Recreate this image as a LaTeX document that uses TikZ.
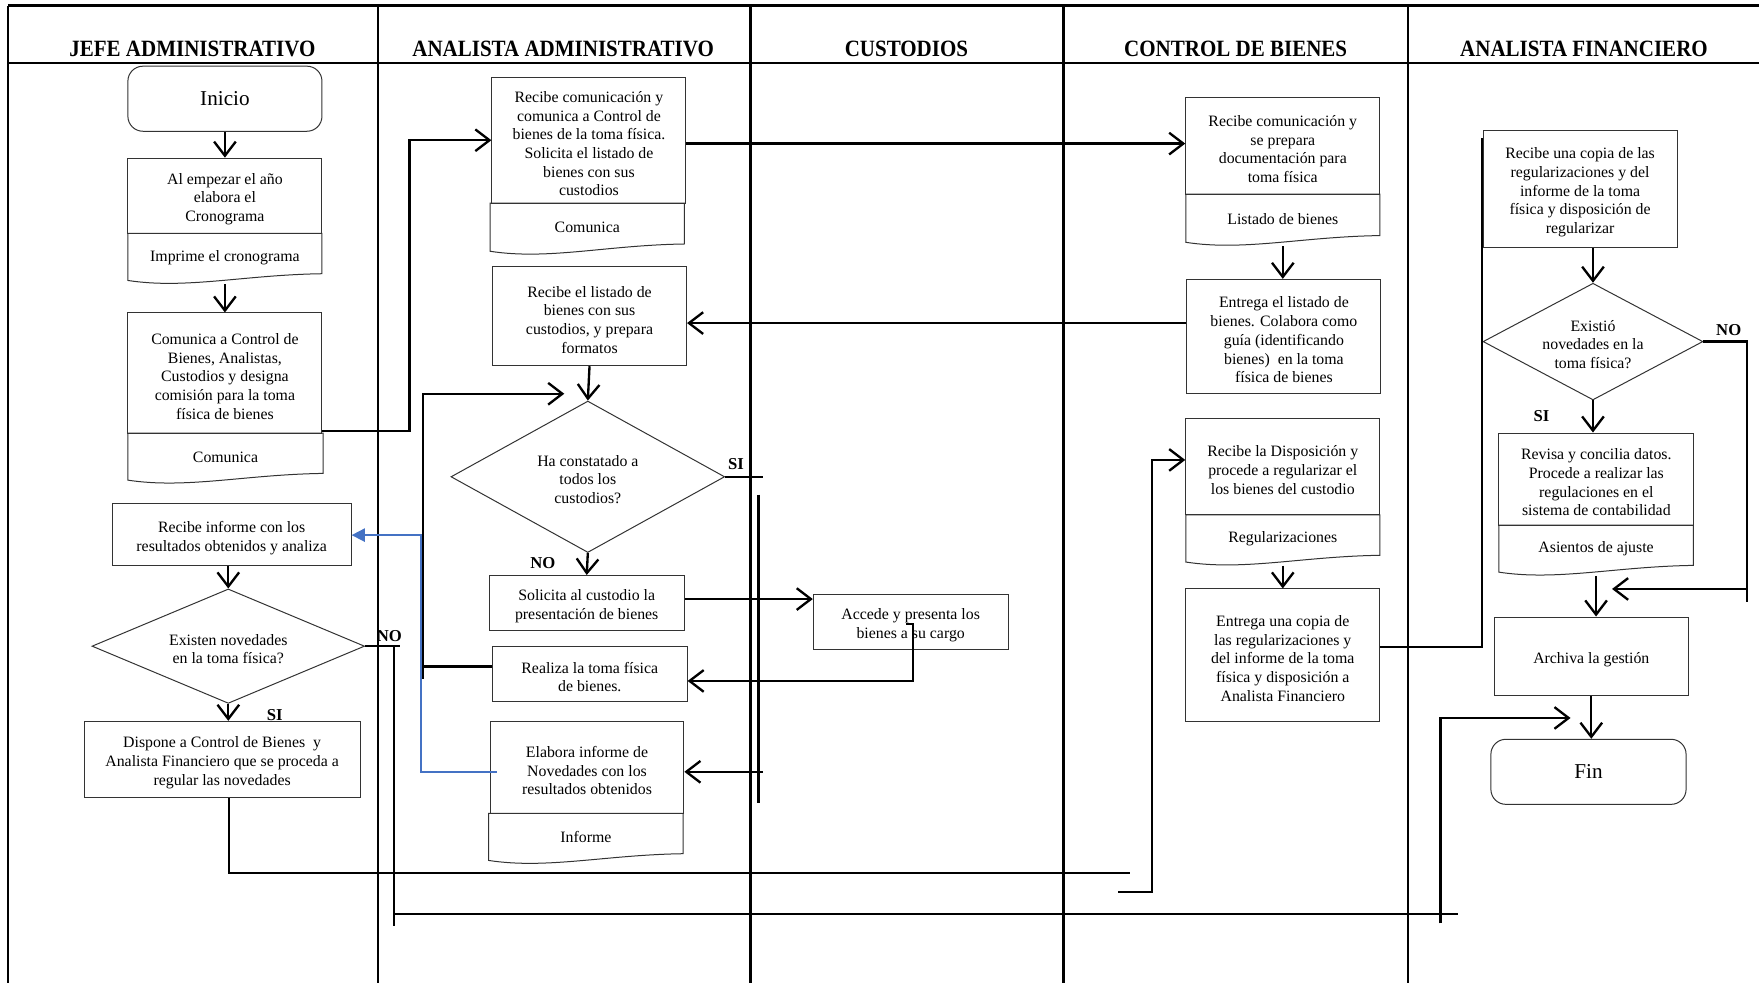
\documentclass[tikz,border=0pt]{standalone}
\usepackage{fontspec}
\setmainfont{Liberation Serif}
\usetikzlibrary{arrows.meta,shapes.geometric,calc}
\newcommand\fs{\fontsize{9.5}{11.2}\selectfont}
\definecolor{bluelink}{RGB}{68,114,196}
\tikzset{
 box/.style={draw=black!80, line width=0.6pt, rectangle, inner sep=0pt, align=center, font=\fs},
 doctxt/.style={inner sep=0pt, align=center, font=\fs},
 docline/.style={draw=black!80, line width=0.6pt},
 dia/.style={draw=black!80, line width=0.6pt, diamond, inner sep=0pt},
 conn/.style={line width=1.4pt, -{Straight Barb[length=8.5pt,width=13pt,line width=1.4pt]}},
 plain/.style={line width=1.4pt},
 blueconn/.style={draw=bluelink, line width=1pt, -{Triangle[length=8pt,width=8pt]}},
 lane/.style={line width=1.4pt},
 hdr/.style={inner sep=0pt, font=\fontsize{14}{16}\selectfont\bfseries},
 lbl/.style={inner sep=0pt, font=\fontsize{10}{12}\selectfont\bfseries},
}
\newcommand\bx[6]{\node[box, minimum width={(#4-#2)*0.673pt}, minimum height={(#5-#3)*0.673pt}] (#1) at ({(#2+#4)/2},{(#3+#5)/2}) {};
 \node[doctxt] (#1t) at ({(#2+#4)/2},{(#3+#5)/2+3}) {#6};}
\newcommand\dc[7]{%
 \draw[docline] (#2,#3) -- (#2,#6) .. controls ({#2+0.3*(#4-#2)},{#6+8}) and ({#2+0.6*(#4-#2)},{#5+1}) .. (#4,#5) -- (#4,#3) -- cycle;
 \node[inner sep=0pt, minimum width={(#4-#2)*0.673pt}, minimum height={(#6+3-#3)*0.673pt}] (#1) at ({(#2+#4)/2},{(#3+#6+3)/2}) {};
 \node[doctxt] (#1t) at ({(#2+#4)/2},{(#3+#5)/2+3.5}) {#7};
}
\newcommand\dm[7]{\node[dia, aspect=#7, minimum width={#4*0.673pt}, minimum height={#5*0.673pt}] (#1) at (#2,#3) {};
 \node[doctxt] (#1t) at (#2,{#3+2.5}) {#6};}
\begin{document}
\begin{tikzpicture}[x=0.673pt,y=-0.673pt]
\useasboundingbox (0,0) rectangle (1568,876);
% lanes
\draw[lane] (7,5) -- (1568,5);
\draw[lane] (7,56) -- (1568,56);
\foreach \xx in {7,337,669,948,1255} \draw[lane] (\xx,5) -- (\xx,876);
\node[hdr] (h1) at (171.5,44) {\scalebox{0.9}[1]{JEFE ADMINISTRATIVO}};
\node[hdr] (h2) at (502,44) {\scalebox{0.9}[1]{ANALISTA ADMINISTRATIVO}};
\node[hdr] (h3) at (808,44) {\scalebox{0.9}[1]{CUSTODIOS}};
\node[hdr] (h4) at (1101.5,44) {\scalebox{0.9}[1]{CONTROL DE BIENES}};
\node[hdr] (h5) at (1412,44) {\scalebox{0.9}[1]{ANALISTA FINANCIERO}};

% Jefe administrativo
\node[box, rounded corners=9pt, minimum width={173*0.673pt}, minimum height={58*0.673pt}, font=\fontsize{12.7}{14}\selectfont] (Ini) at (200.5,88) {Inicio};
\bx{J1}{114}{141}{287}{208}{Al empezar el año\\elabora el\\Cronograma}
\dc{J1d}{114}{208}{287}{244}{250}{Imprime el cronograma}
\bx{J2}{114}{279}{287}{386}{Comunica a Control de\\Bienes, Analistas,\\Custodios y designa\\comisión para la toma\\física de bienes}
\dc{J2d}{114}{386}{288}{422}{428}{Comunica}
\bx{J3}{100}{449}{313}{504}{Recibe informe con los\\resultados obtenidos y analiza}
\dm{JD}{203.5}{576}{243}{102}{Existen novedades\\en la toma física?}{2.38}
\bx{J4}{75}{643}{321}{711}{Dispone a Control de Bienes\ \ y\\Analista Financiero que se proceda a\\regular las novedades}

% Analista administrativo
\bx{A1}{438.5}{69}{611.5}{181}{Recibe comunicación y\\comunica a Control de\\bienes de la toma física.\\Solicita el listado de\\bienes con sus\\custodios}
\dc{A1d}{437}{181}{610}{217.5}{224}{Comunica}
\bx{A2}{439}{238}{612}{326}{Recibe el listado de\\bienes con sus\\custodios, y prepara\\formatos}
\dm{AD}{524}{425}{244}{135}{Ha constatado a\\todos los\\custodios?}{1.81}
\bx{A3}{436}{513}{610}{562}{Solicita al custodio la\\presentación de bienes}
\bx{A4}{439}{576}{612.5}{625}{Realiza la toma física\\de bienes.}
\bx{A5}{437}{643}{609.6}{725}{Elabora informe de\\Novedades con los\\resultados obtenidos}
\dc{A5d}{435.6}{725}{609}{761}{767}{Informe}

% Custodios
\bx{C1}{725}{530}{898.6}{579}{Accede y presenta los\\bienes a su cargo}

% Control de bienes
\bx{CB1}{1057}{87}{1230}{173}{Recibe comunicación y\\se prepara\\documentación para\\toma física}
\dc{CB1d}{1057}{173}{1230}{210}{216}{Listado de bienes}
\bx{CB2}{1058}{249}{1231}{351}{Entrega el listado de\\bienes. Colabora como\\guía (identificando\\bienes)\ \ en la toma\\física de bienes}
\bx{CB3}{1057}{373}{1230}{459}{Recibe la Disposición y\\procede a regularizar el\\los bienes del custodio}
\dc{CB3d}{1057}{459}{1230}{495}{501}{Regularizaciones}
\bx{CB4}{1057}{525}{1230}{643}{Entrega una copia de\\las regularizaciones y\\del informe de la toma\\física y disposición a\\Analista Financiero}

% Analista financiero
\bx{AF1}{1322}{116}{1495}{221}{Recibe una copia de las\\regularizaciones y del\\informe de la toma\\física y disposición de\\regularizar}
\dm{AFD}{1420}{304.5}{196}{104}{Existió\\novedades en la\\toma física?}{1.88}
\bx{AF2}{1336}{386}{1510}{468}{Revisa y concilia datos.\\Procede a realizar las\\regulaciones en el\\sistema de contabilidad}
\dc{AF2d}{1336}{468}{1509.5}{504}{510}{Asientos de ajuste}
\bx{AF3}{1332}{550}{1505}{620}{Archiva la gestión}
\node[box, rounded corners=9pt, minimum width={174*0.673pt}, minimum height={58*0.673pt}, font=\fontsize{12.7}{14}\selectfont] (Fin) at (1416,688) {Fin};

% connectors
\draw[conn] (Ini.south) -- (J1.north);
\draw[conn] (J1d.south) -- (J2.north);
\coordinate (k1) at (365,384);
\draw[conn] (J2.east |- k1) -- (k1) |- (A1.west);
\coordinate (k2) at (0,128);
\draw[conn] (A1.east |- k2) -- (CB1.west |- k2);
\draw[conn] (CB1d.south) -- (CB1d.south |- CB2.north);
\coordinate (k3) at (0,288);
\draw[conn] (CB2.west |- k3) -- (A2.east |- k3);
\draw[conn] (A2.south) -- (AD.north);
\draw[conn] (AD.south) -- (A3.north);
\coordinate (k4) at (680,425);
\draw[plain] (AD.east) -- (k4);
\coordinate (k5) at (676,441); \coordinate (k6) at (676,716);
\draw[plain] (k5) -- (k6);
\coordinate (k7) at (0,534);
\draw[conn] (A3.east |- k7) -- (C1.west |- k7);
\coordinate (k8) at (808,556); \coordinate (k9) at (814,607);
\draw[conn] (k8) -- (k8 -| k9) -- (k9) -- (A4.east |- k9);
\coordinate (k10) at (680,688);
\draw[conn] (k10) -- (A5.east |- k10);
\coordinate (k11) at (377,594); \coordinate (k12) at (377,605); \coordinate (k13) at (503,351);
\draw[plain] (A4.west |- k11) -- (k11);
\draw[conn] (k12) -- (k12 |- k13) -- (k13);
\coordinate (k14) at (443,688); \coordinate (k15) at (375,477);
\draw[blueconn] (k14) -- (k14 -| k15) -- (k15) -- (J3.east |- k15);
\draw[conn] (JD.north |- J3.south) -- (JD.north);
\draw[conn] (JD.south) -- (JD.south |- J4.north);
\coordinate (k16) at (357,576);
\draw[plain] (JD.east) -- (k16);
\coordinate (k17) at (351,576); \coordinate (k18) at (351,825);
\draw[plain] (k17) -- (k18);
\coordinate (k19) at (351,815); \coordinate (k20) at (1300,815);
\draw[plain] (k19) -- (k20);
\coordinate (k21) at (1284,823); \coordinate (k22) at (1400,640);
\draw[conn] (k21) |- (k22);
\coordinate (k23) at (1007,778); \coordinate (k24) at (204,778);
\draw[plain] (J4.south -| k24) -- (k24) -- (k23);
\coordinate (k25) at (997,795); \coordinate (k26) at (1027,410);
\draw[conn] (k25) -| (k26) -- (CB3.west |- k26);
\draw[conn] (CB3d.south) -- (CB3d.south |- CB4.north);
\coordinate (k27) at (0,577); \coordinate (k28) at (1321,123);
\draw[plain] (CB4.east |- k27) -| (k28);
\draw[conn] (AFD.north |- AF1.south) -- (AFD.north);
\coordinate (k29) at (1557,300); \coordinate (k30) at (1557,537);
\draw[plain] (AFD.east) -- (AFD.east -| k29) -- (k30);
\coordinate (k31) at (1557,525); \coordinate (k32) at (1437,525);
\draw[conn] (k31) -- (k32);
\draw[conn] (AFD.south) -- (AFD.south |- AF2.north);
\draw[conn] (AF2d.south) -- (AF2d.south |- AF3.north);
\draw[conn] (AF3.south) -- (AF3.south |- Fin.north);

% labels
\node[lbl] (l1) at (656,414) {SI};
\node[lbl] (l2) at (484,502) {NO};
\node[lbl] (l3) at (347,567) {NO};
\node[lbl] (l4) at (245,637) {SI};
\node[lbl] (l5) at (1541,294) {NO};
\node[lbl] (l6) at (1374,371) {SI};
\end{tikzpicture}
\end{document}
